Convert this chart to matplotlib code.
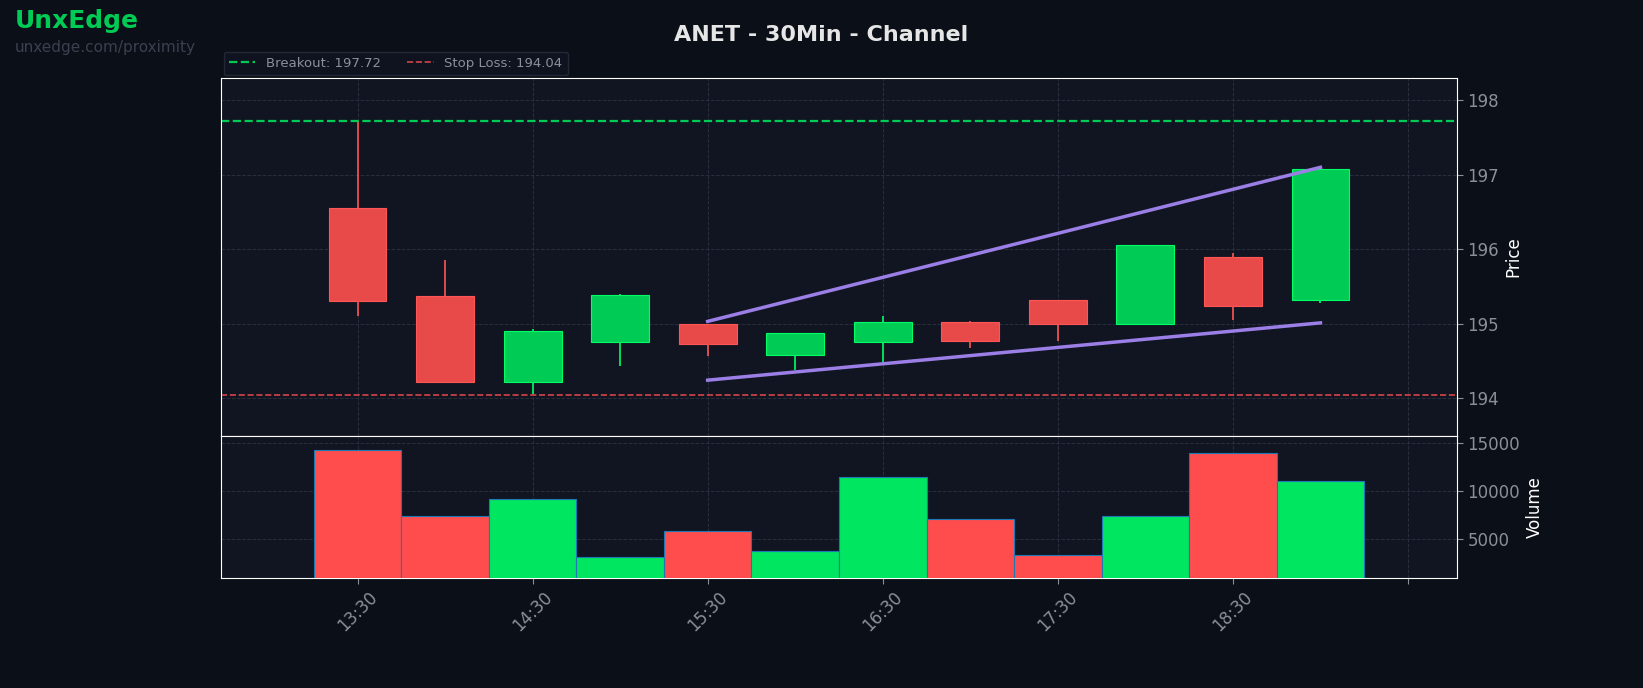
import numpy as np
import matplotlib
matplotlib.use("Agg")
import matplotlib.pyplot as plt

# half-hour bars starting 13:30
times = [13.5, 14.0, 14.5, 15.0, 15.5, 16.0, 16.5, 17.0, 17.5, 18.0, 18.5, 19.0]
opens = [196.55, 195.37, 194.22, 194.75, 195.00, 194.58, 194.75, 195.02, 195.32, 195.00, 195.89, 195.32]
closes = [195.30, 194.22, 194.90, 195.38, 194.73, 194.87, 195.02, 194.77, 195.00, 196.05, 195.23, 197.08]
highs = [197.72, 195.85, 194.93, 195.40, 195.00, 194.87, 195.10, 195.04, 195.32, 196.05, 195.95, 197.08]
lows = [195.10, 194.22, 194.05, 194.43, 194.57, 194.37, 194.47, 194.67, 194.76, 195.00, 195.05, 195.28]
volumes = [14300, 7400, 9200, 3200, 5900, 3800, 11500, 7100, 3400, 7400, 13900, 11000]

breakout = 197.72
stop_loss = 194.04
upper_x, upper_y = [15.5, 19.0], [195.03, 197.10]
lower_x, lower_y = [15.5, 19.0], [194.24, 195.01]

tick_pos = [13.5, 14.5, 15.5, 16.5, 17.5, 18.5, 19.5]
tick_lbl = ["13:30", "14:30", "15:30", "16:30", "17:30", "18:30", ""]

BG = "#0b0f17"
AX = "#111522"
GREEN = "#00cc55"
RED = "#e84a4a"
TXT = "#8a8f9a"

fig = plt.figure(figsize=(16.43, 6.88), dpi=100, facecolor=BG)
ax = fig.add_axes([0.1345, 0.3663, 0.7523, 0.5203], facecolor=AX)
axv = fig.add_axes([0.1345, 0.1599, 0.7523, 0.2064], facecolor=AX, sharex=ax)

w = 0.5 * 0.66
for t, o, c, h, l in zip(times, opens, closes, highs, lows):
    col = GREEN if c >= o else RED
    ec = "#00ff66" if c >= o else "#ff5555"
    ax.vlines(t, l, h, color=ec, lw=1.2, zorder=2)
    ax.bar(t, abs(c - o), bottom=min(o, c), width=w, color=col, edgecolor=ec, lw=0.8, zorder=3)

ax.axhline(breakout, color=GREEN, ls="--", lw=1.6, label=f"Breakout: {breakout:.2f}")
ax.axhline(stop_loss, color=RED, ls="--", lw=1.2, alpha=0.9, label=f"Stop Loss: {stop_loss:.2f}")
ax.plot(upper_x, upper_y, color="#9b7fe6", lw=2.5, zorder=4)
ax.plot(lower_x, lower_y, color="#9b7fe6", lw=2.5, zorder=4)

vcols = ["#00e660" if c >= o else "#ff4d4d" for o, c in zip(opens, closes)]
axv.bar(times, volumes, width=0.5, color=vcols, edgecolor="#1f77b4", lw=0.8, zorder=3)

ax.set_xlim(12.72, 19.78)
ax.set_ylim(193.49, 198.3)
axv.set_ylim(1000, 15700)
ax.set_yticks([194, 195, 196, 197, 198])
axv.set_yticks([5000, 10000, 15000])
axv.set_xticks(tick_pos)
axv.set_xticklabels(tick_lbl, rotation=45)
plt.setp(ax.get_xticklabels(), visible=False)

for a in (ax, axv):
    a.set_axisbelow(True)
    a.yaxis.tick_right()
    a.yaxis.set_label_position("right")
    a.tick_params(colors=TXT, labelsize=12, length=4)
    a.grid(True, color="#2a2f3d", ls="--", lw=0.7)
    for s in a.spines.values():
        s.set_color("white")
ax.tick_params(axis="x", length=0)
ax.set_ylabel("Price", color="white", fontsize=12)
axv.set_ylabel("Volume", color="white", fontsize=12)

leg = ax.legend(loc="lower left", bbox_to_anchor=(0, 1.0), ncol=2, fontsize=9.5,
                facecolor=AX, edgecolor="#2a2f3d", labelcolor=TXT, borderaxespad=0.2)

fig.text(0.5, 0.94, "ANET - 30Min - Channel", ha="center", color="#e6e6e6", fontsize=16, weight="bold")
fig.text(0.009, 0.96, "UnxEdge", color=GREEN, fontsize=18, weight="bold")
fig.text(0.009, 0.925, "unxedge.com/proximity", color="#3a4050", fontsize=11)

fig.savefig("out.png", dpi=100, facecolor=BG)
